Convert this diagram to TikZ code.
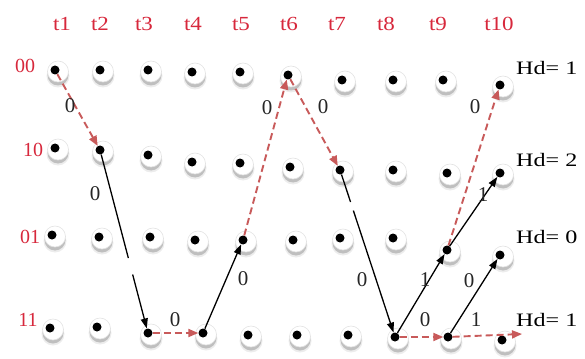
\documentclass[tikz,border=0pt]{standalone}
\usepackage{fontspec}
\setmainfont{Liberation Serif}
\usetikzlibrary{arrows.meta}
\definecolor{lblred}{RGB}{215,40,60}
\definecolor{dashred}{RGB}{200,90,90}
\newcommand{\trdot}[3]{%
  \fill[gray!15] (#1+3,#2+6) circle (11.5pt);
  \fill[gray!50] (#1+3,#2+5) circle (10.5pt);
  \fill[white,draw=gray!22,line width=0.6pt] (#1+3,#2+1.5) circle (10.5pt);
  \node[dotnode] (#3) at (#1,#2) {};}
\begin{document}
\begin{tikzpicture}[x=1pt,y=-1pt,
  dotnode/.style={circle,fill=black,inner sep=0pt,minimum size=9pt},
  tlab/.style={text=lblred,font=\fontsize{20}{20}\selectfont},
  rlab/.style={text=lblred,font=\fontsize{20}{20}\selectfont},
  elab/.style={text=black!85,font=\fontsize{21}{21}\selectfont,inner sep=0pt},
  hdlab/.style={text=black,font=\fontsize{19}{19}\selectfont,anchor=west,inner sep=0pt},
  dasharr/.style={draw=dashred,line width=1.9pt,dash pattern=on 7pt off 4pt,
    -{Triangle[length=10pt,width=8pt,fill=dashred]}},
  solarr/.style={draw=black,line width=1.3pt,
    -{Triangle[length=10pt,width=7pt]}}]
\useasboundingbox (0,0) rectangle (585,358);
% dots
\foreach \x/\y [count=\i] in {55/70,100/70,148/70,192/72,240/72,288/75,342/80,393/80,443/80,500/85}
  {\trdot{\x}{\y}{A\i}}
\foreach \x/\y [count=\i] in {55/148,100/150,148/155,192/162,240/163,290/167,340/170,393/170,447/173,500/173}
  {\trdot{\x}{\y}{B\i}}
\foreach \x/\y [count=\i] in {52/235,99/237,150/237,195/240,243/240,293/240,340/238,393/238,447/250,500/255}
  {\trdot{\x}{\y}{C\i}}
\foreach \x/\y [count=\i] in {50/328,97/327,148/333,203/333,248/335,297/335,348/335,395/337,448/337,502/340}
  {\trdot{\x}{\y}{D\i}}
% time labels
\foreach \x [count=\i] in {62,100,144,193,241,289,337,386,438,499}
  {\node[tlab] (t\i) at (\x,24) {\scalebox{1.15}[1]{t\i}};}
% state labels
\node[rlab] (s00) at (25,66) {00};
\node[rlab] (s10) at (33,150) {10};
\node[rlab] (s01) at (30,237) {01};
\node[rlab] (s11) at (28,320) {11};
% Hamming distances
\node[hdlab] (h1) at (516,68) {\scalebox{1.27}[1]{Hd= 1}};
\node[hdlab] (h2) at (516,160) {\scalebox{1.27}[1]{Hd= 2}};
\node[hdlab] (h0) at (516,237) {\scalebox{1.27}[1]{Hd= 0}};
\node[hdlab] (h3) at (516,320) {\scalebox{1.27}[1]{Hd= 1}};
% connectors
\coordinate (end) at (522,334);
\draw[dasharr] (A1) -- (B2);
\draw[solarr,dash pattern=on 107pt off 17pt on 300pt] (B2) -- (D3);
\draw[dasharr] (D3) -- (D4);
\draw[solarr] (D4) -- (C5);
\draw[dasharr] (C5) -- (A6);
\draw[dasharr] (A6) -- (B7);
\draw[solarr,dash pattern=on 29pt off 9pt on 300pt] (B7) -- (D8);
\draw[solarr] (D8) -- (C9);
\draw[dasharr] (D8) -- (D9);
\draw[solarr] (D9) -- (C10);
\draw[dasharr] (D9) -- (end);
\draw[dasharr] (C9) -- (A10);
\draw[solarr] (C9) -- (B10);
% edge labels
\node[elab] (l1) at (70,106) {0};
\node[elab] (l2) at (95,194) {0};
\node[elab] (l3) at (175,320) {0};
\node[elab] (l4) at (243,279) {0};
\node[elab] (l5) at (267,108) {0};
\node[elab] (l6) at (323,107) {0};
\node[elab] (l7) at (362,280) {0};
\node[elab] (l8) at (425,280) {1};
\node[elab] (l9) at (425,320) {0};
\node[elab] (l10) at (469,281) {0};
\node[elab] (l11) at (476,320) {1};
\node[elab] (l12) at (475,107) {0};
\node[elab] (l13) at (483,195) {1};
\end{tikzpicture}
\end{document}
